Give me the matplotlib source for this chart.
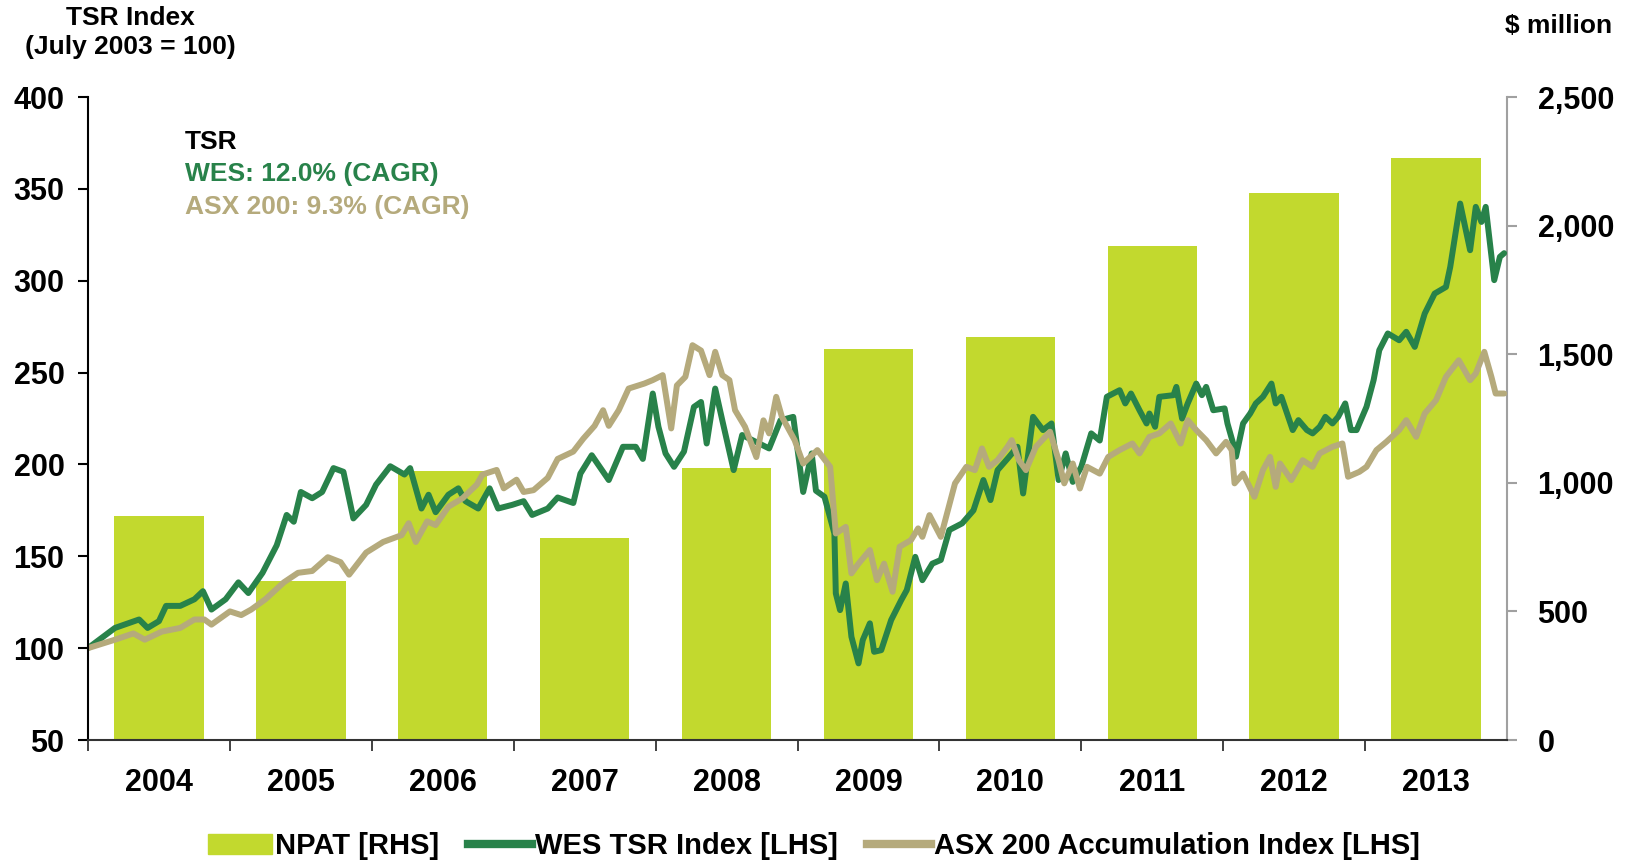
import matplotlib
matplotlib.use("Agg")
import matplotlib.pyplot as plt
from matplotlib.patches import Patch
from matplotlib.lines import Line2D

plt.rcParams['font.family'] = ['Liberation Sans', 'DejaVu Sans']
plt.rcParams['font.weight'] = 'bold'

# fiscal years and NPAT ($ million, RHS)
years = ['2004', '2005', '2006', '2007', '2008', '2009', '2010', '2011', '2012', '2013']
npat = [871, 618, 1044, 786, 1058, 1522, 1565, 1922, 2126, 2261]

# TSR indices (LHS), x = years since July 2003
wes_t = [0.00, 0.19, 0.36, 0.42, 0.50, 0.55, 0.65, 0.75, 0.81, 0.87, 0.97, 1.06, 1.13, 1.23,
         1.33, 1.40, 1.45, 1.50, 1.58, 1.65, 1.73, 1.80, 1.87, 1.96, 2.03, 2.13, 2.23, 2.27,
         2.35, 2.40, 2.45, 2.54, 2.61, 2.66, 2.75, 2.83, 2.89, 2.99, 3.07, 3.13, 3.24, 3.31,
         3.42, 3.47, 3.55, 3.67, 3.77, 3.86, 3.91, 3.98, 4.02, 4.07, 4.13, 4.20, 4.27, 4.32,
         4.36, 4.42, 4.47, 4.55, 4.61, 4.73, 4.80, 4.88, 4.97, 5.04, 5.10, 5.13, 5.19, 5.26,
         5.27, 5.30, 5.34, 5.38, 5.43, 5.46, 5.51, 5.54, 5.59, 5.66, 5.73, 5.77, 5.83, 5.88,
         5.95, 6.01, 6.07, 6.16, 6.24, 6.31, 6.36, 6.41, 6.49, 6.55, 6.59, 6.66, 6.73, 6.79,
         6.84, 6.89, 6.94, 7.00, 7.07, 7.13, 7.18, 7.27, 7.31, 7.35, 7.41, 7.46, 7.48, 7.52,
         7.55, 7.65, 7.67, 7.71, 7.75, 7.81, 7.85, 7.88, 7.93, 8.01, 8.03, 8.07, 8.09, 8.14,
         8.19, 8.23, 8.28, 8.34, 8.37, 8.41, 8.49, 8.53, 8.59, 8.63, 8.68, 8.72, 8.77, 8.81,
         8.86, 8.90, 8.94, 9.01, 9.06, 9.10, 9.16, 9.24, 9.29, 9.35, 9.42, 9.49, 9.57, 9.60,
         9.67, 9.74, 9.78, 9.82, 9.85, 9.91, 9.95, 9.98]
wes_v = [100, 111, 115.6, 111, 114.7, 123, 123, 126.6, 131, 121, 126.6, 135.8, 130, 141,
         156, 172.5, 168.8, 185, 181.6, 185, 198, 196, 170.6, 178, 189, 199, 194.5, 198,
         176, 183.5, 174, 183.5, 187, 180, 176, 187, 176, 178, 180, 172.5, 176, 182,
         179, 195, 205, 191.5, 209.6, 209.6, 203, 238.6, 220.5, 206, 198.7, 207, 231.3, 234,
         211.4, 241.3, 224, 196.9, 216, 211.4, 208.7, 224, 225.9, 185, 206, 185.7, 182.4, 162.4,
         129.8, 120.7, 135.2, 106.2, 91.7, 104.4, 113.5, 98, 98.9, 115.3, 126, 131.6, 149.7, 137,
         146, 148, 164.3, 167.9, 175, 191.5, 180.6, 196.9, 204, 209.6, 184.2, 225.9, 218.7, 222.3,
         191.5, 206, 190.5, 198.7, 216.9, 213, 236.8, 240.4, 233.2, 238.6, 229.5, 222.3, 227.7, 220.5,
         236.8, 237.7, 242.2, 225, 233.2, 244, 237.7, 242.2, 229.5, 230.5, 222.3, 211.4, 204.2, 222.3,
         227.7, 233.2, 236.8, 244, 233.2, 236.8, 218.7, 224.1, 218.7, 216.9, 220.5, 225.9, 222.3, 225.9,
         233.2, 218.7, 218.7, 231.4, 245.9, 262.2, 271.3, 267.6, 272.2, 264, 282.1, 293, 296.6, 307.5,
         342, 316.6, 340.2, 332, 340.2, 300.3, 313, 315]

asx_t = [0.00, 0.19, 0.32, 0.40, 0.52, 0.65, 0.75, 0.82, 0.87, 1.00, 1.08, 1.15, 1.25, 1.38,
         1.48, 1.58, 1.69, 1.78, 1.84, 1.96, 2.08, 2.21, 2.26, 2.31, 2.39, 2.45, 2.54, 2.64,
         2.74, 2.78, 2.88, 2.93, 3.02, 3.07, 3.14, 3.24, 3.31, 3.42, 3.49, 3.57, 3.63, 3.67,
         3.74, 3.81, 3.92, 3.98, 4.05, 4.11, 4.15, 4.21, 4.26, 4.32, 4.38, 4.42, 4.47, 4.52,
         4.56, 4.63, 4.71, 4.76, 4.80, 4.85, 4.89, 4.98, 5.04, 5.14, 5.23, 5.27, 5.34, 5.38,
         5.43, 5.51, 5.56, 5.61, 5.67, 5.72, 5.80, 5.85, 5.88, 5.93, 6.01, 6.11, 6.19, 6.25,
         6.30, 6.35, 6.41, 6.48, 6.51, 6.56, 6.61, 6.68, 6.78, 6.84, 6.88, 6.94, 6.99, 7.04,
         7.13, 7.19, 7.27, 7.36, 7.41, 7.48, 7.55, 7.63, 7.70, 7.75, 7.81, 7.88, 7.95, 8.02,
         8.06, 8.08, 8.14, 8.22, 8.28, 8.33, 8.37, 8.40, 8.48, 8.56, 8.63, 8.68, 8.77, 8.84,
         8.88, 8.96, 9.01, 9.08, 9.15, 9.24, 9.29, 9.36, 9.42, 9.50, 9.57, 9.66, 9.74, 9.78,
         9.84, 9.89, 9.92, 9.98]
asx_v = [100, 104.6, 108, 104.6, 109, 111, 115.6, 115.6, 112.8, 120, 118, 121, 126.6, 135.8,
         141, 142, 149.5, 146.8, 140, 152, 157.8, 161.5, 168, 157.8, 169, 167, 177, 181.6,
         189, 194.5, 197, 187, 191.7, 185, 186, 192.7, 203, 207, 214, 221, 229.5, 221,
         229.5, 241.3, 244, 245.9, 248.6, 219.6, 243, 247.7, 264.9, 262, 248.6, 261.3, 248.6, 245.9,
         229.5, 220.5, 204, 224, 216.9, 236.8, 225.9, 213.2, 200.5, 207.8, 198.7, 162.4, 166, 140.7,
         146, 153.4, 137, 146, 130.7, 155.2, 158.8, 165.2, 160.6, 172.4, 160.6, 189.7, 198.7, 196.9,
         208.7, 198.7, 202.3, 209.6, 213.2, 202.3, 196.9, 209.6, 217.8, 202.3, 189.7, 200.5, 186.9, 198.7,
         195, 204.1, 207.8, 211.4, 206, 215, 216.9, 222.3, 211.4, 224.1, 218.7, 213.2, 206, 212.3,
         207.8, 189.7, 195, 182.4, 196.9, 204.1, 187.8, 200.5, 191.5, 202.3, 198.7, 206, 209.6, 211.4,
         193.3, 196, 198.7, 207.8, 212.3, 218.7, 224.1, 215, 227.7, 235, 247.7, 256.7, 245.9, 249.5,
         261.3, 247.7, 238.6, 238.6]

bar_col = '#c2d92e'
wes_col = '#28824a'
asx_col = '#b5aa7c'

fig = plt.figure(figsize=(16.28, 8.63), dpi=100)
ax = fig.add_axes([88 / 1628, 1 - 740 / 863, (1507 - 88) / 1628, (740 - 97) / 863])
ax2 = ax.twinx()
ax.set_zorder(ax2.get_zorder() + 1)
ax.patch.set_visible(False)

xpos = [i + 0.5 for i in range(len(years))]
ax2.bar(xpos, npat, width=0.63, color=bar_col)
ax2.set_ylim(0, 2500)
ax2.set_yticks([0, 500, 1000, 1500, 2000, 2500])
ax2.set_yticklabels(['0', '500', '1,000', '1,500', '2,000', '2,500'])

ax.plot(wes_t, wes_v, color=wes_col, lw=4.3, solid_joinstyle='round', solid_capstyle='round')
ax.plot(asx_t, asx_v, color=asx_col, lw=4.3, solid_joinstyle='round', solid_capstyle='round')
ax.set_ylim(50, 400)
ax.set_xlim(0, 10)
ax.set_yticks(range(50, 401, 50))

ax.set_xticks(range(0, 10))
ax.set_xticklabels([])
ax.set_xticks(xpos, minor=True)
ax.set_xticklabels(years, minor=True)

for s in ['top', 'right']:
    ax.spines[s].set_visible(False)
for s in ['top', 'left', 'bottom']:
    ax2.spines[s].set_visible(False)
ax.spines['left'].set_linewidth(1.5)
ax.spines['bottom'].set_linewidth(1.5)
ax.spines['bottom'].set_color('#333333')
ax2.spines['right'].set_color('#a0a0a0')
ax2.spines['right'].set_linewidth(1.5)

ax.tick_params(axis='y', direction='out', length=7, width=1.5, pad=10, labelsize=22)
ax.tick_params(axis='x', which='major', direction='out', length=8, width=1.3, color='#333333')
ax.tick_params(axis='x', which='minor', length=0, pad=20, labelsize=22)
ax2.tick_params(axis='y', direction='out', length=7, width=1.5, color='#a0a0a0', pad=15, labelsize=22)
for lab in ax.get_yticklabels() + ax2.get_yticklabels() + ax.get_xticklabels(minor=True):
    lab.set_fontweight('bold')

fig.text(130 / 1628, 1 - 18 / 863, 'TSR Index', ha='center', va='center', fontsize=19, fontweight='bold')
fig.text(130 / 1628, 1 - 47 / 863, '(July 2003 = 100)', ha='center', va='center', fontsize=19, fontweight='bold')
fig.text(1612 / 1628, 1 - 26 / 863, '$ million', ha='right', va='center', fontsize=19, fontweight='bold')

fig.text(185 / 1628, 1 - 142 / 863, 'TSR', ha='left', va='center', fontsize=19, fontweight='bold', color='black')
fig.text(185 / 1628, 1 - 174 / 863, 'WES: 12.0% (CAGR)', ha='left', va='center', fontsize=19, fontweight='bold', color=wes_col)
fig.text(185 / 1628, 1 - 207 / 863, 'ASX 200: 9.3% (CAGR)', ha='left', va='center', fontsize=19, fontweight='bold', color=asx_col)

handles = [Patch(color=bar_col),
           Line2D([], [], color=wes_col, lw=6),
           Line2D([], [], color=asx_col, lw=6)]
labels = ['NPAT [RHS]', 'WES TSR Index [LHS]', 'ASX 200 Accumulation Index [LHS]']
fig.legend(handles, labels, loc='center', bbox_to_anchor=(0.5, 1 - 846 / 863), ncol=3,
           frameon=False, prop={'weight': 'bold', 'size': 21},
           handlelength=2.2, handletextpad=0.1, columnspacing=1.0)

fig.savefig('out.png', dpi=100)
